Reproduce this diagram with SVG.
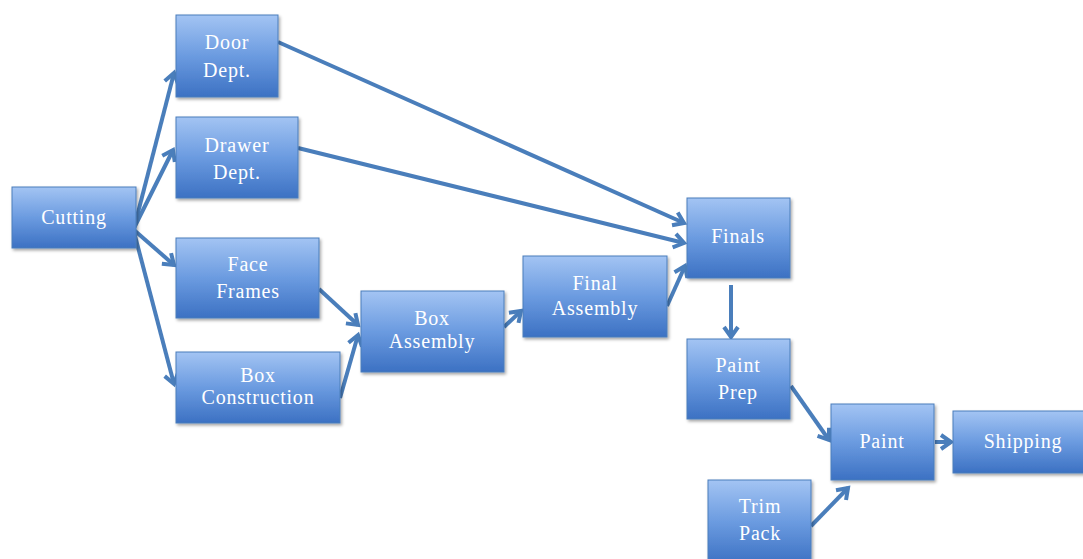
<svg xmlns="http://www.w3.org/2000/svg" width="1083" height="559" viewBox="0 0 1083 559">
<defs>
<linearGradient id="g" x1="0" y1="0" x2="0" y2="1">
<stop offset="0" stop-color="#a3c4f3"/>
<stop offset="0.5" stop-color="#6b9be0"/>
<stop offset="1" stop-color="#3c71c3"/>
</linearGradient>
<filter id="sh" x="-10%" y="-10%" width="130%" height="130%">
<feDropShadow dx="1.5" dy="2" stdDeviation="1.5" flood-color="#000" flood-opacity="0.35"/>
</filter>
<marker id="ah" markerUnits="userSpaceOnUse" markerWidth="20" markerHeight="20" refX="14" refY="8" orient="auto" viewBox="0 0 20 16">
<path d="M4,1 L14,8 L4,15" fill="none" stroke="#4a7ebb" stroke-width="4" stroke-linejoin="miter"/>
</marker>
</defs>
<style>
.n rect{fill:url(#g);stroke:#4a7ebb;stroke-width:1;filter:url(#sh)}
.n text{font-family:"Liberation Serif","Times New Roman",serif;font-size:20px;letter-spacing:0.8px;fill:#fff;text-anchor:middle}
#connectors line{stroke:#4a7ebb;stroke-width:4;marker-end:url(#ah)}
</style>
<rect width="1083" height="559" fill="#fff"/>
<g id="connectors">
<line x1="134" y1="228" x2="174" y2="73"/>
<line x1="134" y1="228" x2="173" y2="150"/>
<line x1="134" y1="230" x2="174" y2="265"/>
<line x1="134" y1="232" x2="174" y2="384"/>
<line x1="278" y1="42" x2="684" y2="223"/>
<line x1="298" y1="148" x2="684" y2="243"/>
<line x1="319" y1="289" x2="358" y2="325"/>
<line x1="340" y1="398" x2="358" y2="335"/>
<line x1="504" y1="327" x2="521" y2="311"/>
<line x1="667" y1="306" x2="685" y2="266"/>
<line x1="731" y1="285" x2="731" y2="337"/>
<line x1="791" y1="386" x2="829" y2="440"/>
<line x1="811" y1="526" x2="848" y2="488"/>
<line x1="935" y1="442" x2="951" y2="442"/>
</g>
<g id="cutting" class="n"><rect x="12" y="187" width="124" height="61"/><text x="74" y="224">Cutting</text></g>
<g id="door" class="n"><rect x="176" y="15" width="102" height="82"/><text x="227" y="49">Door</text><text x="227" y="77">Dept.</text></g>
<g id="drawer" class="n"><rect x="176" y="117" width="122" height="81"/><text x="237" y="152">Drawer</text><text x="237" y="179">Dept.</text></g>
<g id="face" class="n"><rect x="176" y="238" width="143" height="80"/><text x="248" y="271">Face</text><text x="248" y="298">Frames</text></g>
<g id="boxcon" class="n"><rect x="176" y="352" width="164" height="71"/><text x="258" y="382">Box</text><text x="258" y="404">Construction</text></g>
<g id="boxasm" class="n"><rect x="361" y="291" width="143" height="81"/><text x="432" y="325">Box</text><text x="432" y="348">Assembly</text></g>
<g id="finalasm" class="n"><rect x="523" y="256" width="144" height="81"/><text x="595" y="290">Final</text><text x="595" y="315">Assembly</text></g>
<g id="finals" class="n"><rect x="687" y="198" width="103" height="80"/><text x="738" y="243">Finals</text></g>
<g id="paintprep" class="n"><rect x="687" y="339" width="103" height="80"/><text x="738" y="372">Paint</text><text x="738" y="399">Prep</text></g>
<g id="paint" class="n"><rect x="831" y="404" width="103" height="76"/><text x="882" y="448">Paint</text></g>
<g id="shipping" class="n"><rect x="953" y="411" width="135" height="62"/><text x="1023" y="448">Shipping</text></g>
<g id="trimpack" class="n"><rect x="708" y="480" width="103" height="84"/><text x="760" y="513">Trim</text><text x="760" y="540">Pack</text></g>
</svg>
